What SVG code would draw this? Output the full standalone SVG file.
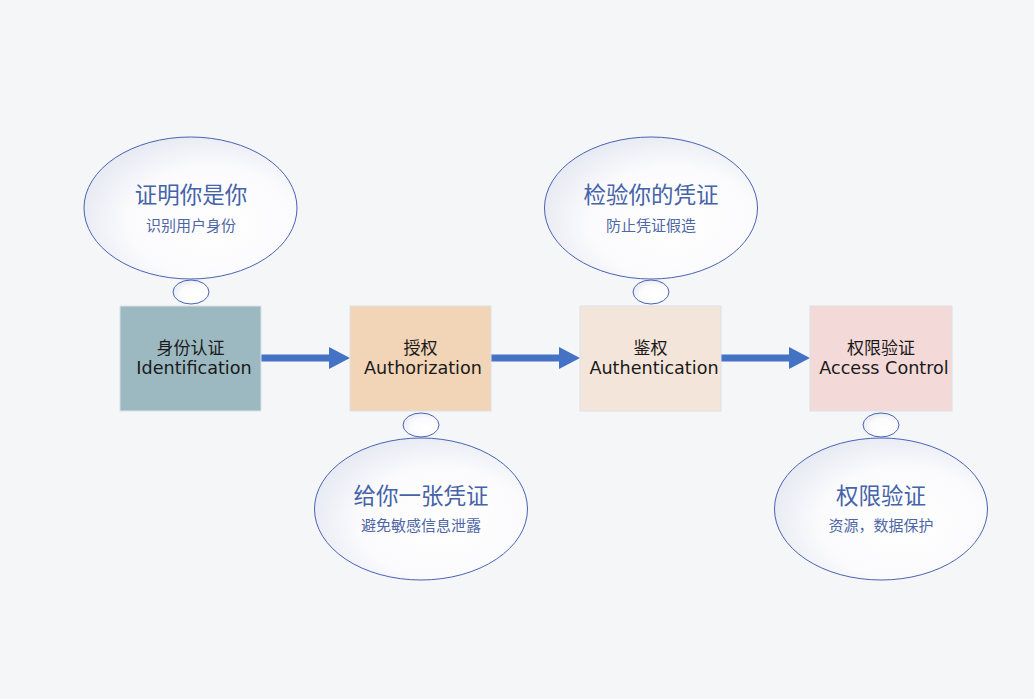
<svg xmlns="http://www.w3.org/2000/svg" width="1034" height="699" viewBox="0 0 1034 699">
<defs>
<radialGradient id="bub" cx="0.6" cy="0.6" r="0.65">
<stop offset="0" stop-color="#ffffff"/>
<stop offset="0.6" stop-color="#fbfbfd"/>
<stop offset="1" stop-color="#e6e9f2"/>
</radialGradient>
</defs>
<style>
.bg{fill:#f5f6f8}
.bubble{fill:url(#bub);stroke:#4a62b4;stroke-width:1}
.title{font-family:"Noto Sans CJK SC","Noto Sans",sans-serif;font-size:22.5px;fill:#4563a8;text-anchor:middle}
.sub{font-family:"Noto Sans CJK SC","Noto Sans",sans-serif;font-size:15px;fill:#4e66a6;text-anchor:middle}
.box{stroke:#dde0e4;stroke-width:1}
.zh{font-family:"Noto Sans CJK SC","DejaVu Sans",sans-serif;font-size:17px;fill:#1a1a1a;text-anchor:middle}
.en{font-family:"DejaVu Sans","Noto Sans",sans-serif;font-size:17.6px;fill:#1a1a1a;text-anchor:middle}
.line{stroke:#4472c4;stroke-width:7;stroke-linecap:round;fill:none}
.head{fill:#4472c4}
</style>
<rect class="bg" width="1034" height="699"/>

<g id="connectors">
<line class="line" x1="261" y1="358" x2="332" y2="358"/>
<polygon class="head" points="329,347 350,358 329,369"/>
<line class="line" x1="491" y1="358" x2="562" y2="358"/>
<polygon class="head" points="559,347 580,358 559,369"/>
<line class="line" x1="721" y1="358" x2="792" y2="358"/>
<polygon class="head" points="789,347 810,358 789,369"/>
</g>

<g id="node-identification">
<rect class="box" x="120" y="306" width="141" height="105" fill="#9cb9c1"/>
<text class="zh" x="190.5" y="354">身份认证</text>
<text class="en" x="194" y="374">Identification</text>
</g>
<g id="node-authorization">
<rect class="box" x="350" y="306" width="141" height="105" fill="#f2d4b7"/>
<text class="zh" x="420.5" y="354">授权</text>
<text class="en" x="423" y="374">Authorization</text>
</g>
<g id="node-authentication">
<rect class="box" x="580" y="306" width="141" height="105" fill="#f4e5da"/>
<text class="zh" x="650.5" y="354">鉴权</text>
<text class="en" x="654" y="374">Authentication</text>
</g>
<g id="node-access-control">
<rect class="box" x="810" y="306" width="142" height="105" fill="#f4d9d9"/>
<text class="zh" x="881" y="354">权限验证</text>
<text class="en" x="884" y="374">Access Control</text>
</g>

<g id="bubble-identification">
<ellipse class="bubble" cx="190.5" cy="208" rx="106.5" ry="71"/>
<ellipse class="bubble" cx="191" cy="292" rx="18" ry="12"/>
<text class="title" x="191" y="203">证明你是你</text>
<text class="sub" x="191" y="231">识别用户身份</text>
</g>
<g id="bubble-authorization">
<ellipse class="bubble" cx="421" cy="425" rx="18" ry="12"/>
<ellipse class="bubble" cx="421" cy="509" rx="106.5" ry="71"/>
<text class="title" x="421" y="504">给你一张凭证</text>
<text class="sub" x="421" y="531">避免敏感信息泄露</text>
</g>
<g id="bubble-authentication">
<ellipse class="bubble" cx="651" cy="208" rx="106.5" ry="71"/>
<ellipse class="bubble" cx="651" cy="292" rx="18" ry="12"/>
<text class="title" x="651" y="203">检验你的凭证</text>
<text class="sub" x="651" y="231">防止凭证假造</text>
</g>
<g id="bubble-access-control">
<ellipse class="bubble" cx="881" cy="425" rx="18" ry="12"/>
<ellipse class="bubble" cx="881" cy="509" rx="106.5" ry="71"/>
<text class="title" x="881" y="504">权限验证</text>
<text class="sub" x="881" y="531">资源，数据保护</text>
</g>
</svg>
